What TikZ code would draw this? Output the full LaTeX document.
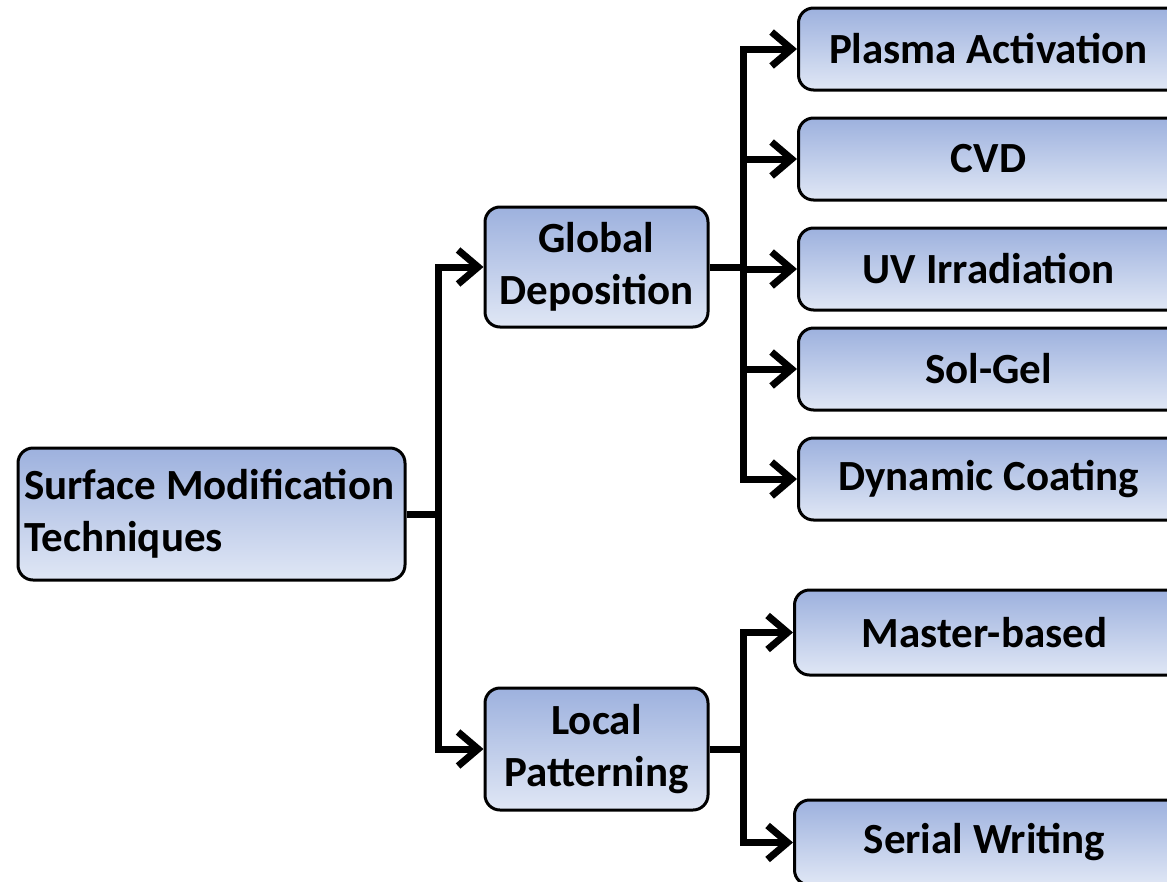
\documentclass[tikz,border=0pt]{standalone}
\usepackage{fontspec}
\setmainfont{Carlito}
\usetikzlibrary{arrows.meta,positioning,calc}
\begin{document}
\begin{tikzpicture}[x=1pt,y=-1pt,
  box/.style={draw=black,line width=3pt,rounded corners=15pt,
    top color=boxtop,bottom color=boxbot,
    font=\fontsize{43}{52}\selectfont\bfseries,align=center,inner sep=0pt},
  leaf/.style={box,anchor=west,minimum width=420pt},
  link/.style={line width=7pt,line join=miter},
  arr/.style={link,-{Straight Barb[length=20pt,width=34pt,line width=7pt]}}]
\definecolor{boxtop}{HTML}{9DB1DE}
\definecolor{boxbot}{HTML}{E0E7F5}
\newcommand{\leaftext}[2][380pt]{\makebox[#1]{#2}\hspace{40pt}}
\useasboundingbox (0,0) rectangle (1167,881);
\clip (0,0) rectangle (1167,881);

% main categories
\node[box,minimum width=387pt,minimum height=132pt,text width=375pt,align=flush left] (root) at (211.5,514) {Surface Modification\\Techniques};
\node[box,minimum width=223pt,minimum height=120pt] (glob) at (596.5,267) {Global\\Deposition};
\node[box,minimum width=223pt,minimum height=122pt] (loc) at (596.5,749) {Local\\Patterning};

% global deposition methods (boxes run past the right edge)
\node[leaf,minimum height=82pt] (pa) at (797,49) {\leaftext{Plasma Activation}};
\node[leaf,minimum height=82pt] (cvd) at (797,159) {\leaftext{CVD}};
\node[leaf,minimum height=82pt] (uv) at (797,269) {\leaftext{UV Irradiation}};
\node[leaf,minimum height=82pt] (sg) at (797,369) {\leaftext{Sol-Gel}};
\node[leaf,minimum height=82pt] (dc) at (797,479) {\leaftext{Dynamic Coating}};

% local patterning methods
\node[leaf,minimum height=85pt] (mb) at (793,632.5) {\leaftext[372pt]{Master-based}};
\node[leaf,minimum height=85pt] (sw) at (793,842.5) {\leaftext[372pt]{Serial Writing}};

% connectors
\coordinate (j1) at ($(root.east)+(32,0)$);
\draw[link] (root.east) -- (j1);
\draw[arr] (j1) |- (glob.west);
\draw[arr] (j1) |- (loc.west);

\coordinate (j2) at ($(glob.east)+(34,0)$);
\draw[link] (glob.east) -- (j2);
\foreach \t in {pa,cvd,uv,sg,dc}
  \draw[arr] (j2) |- (\t.west);

\coordinate (j3) at ($(loc.east)+(34,0)$);
\draw[link] (loc.east) -- (j3);
\draw[arr] (j3) |- (mb.west);
\draw[arr] (j3) |- (sw.west);
\end{tikzpicture}
\end{document}
